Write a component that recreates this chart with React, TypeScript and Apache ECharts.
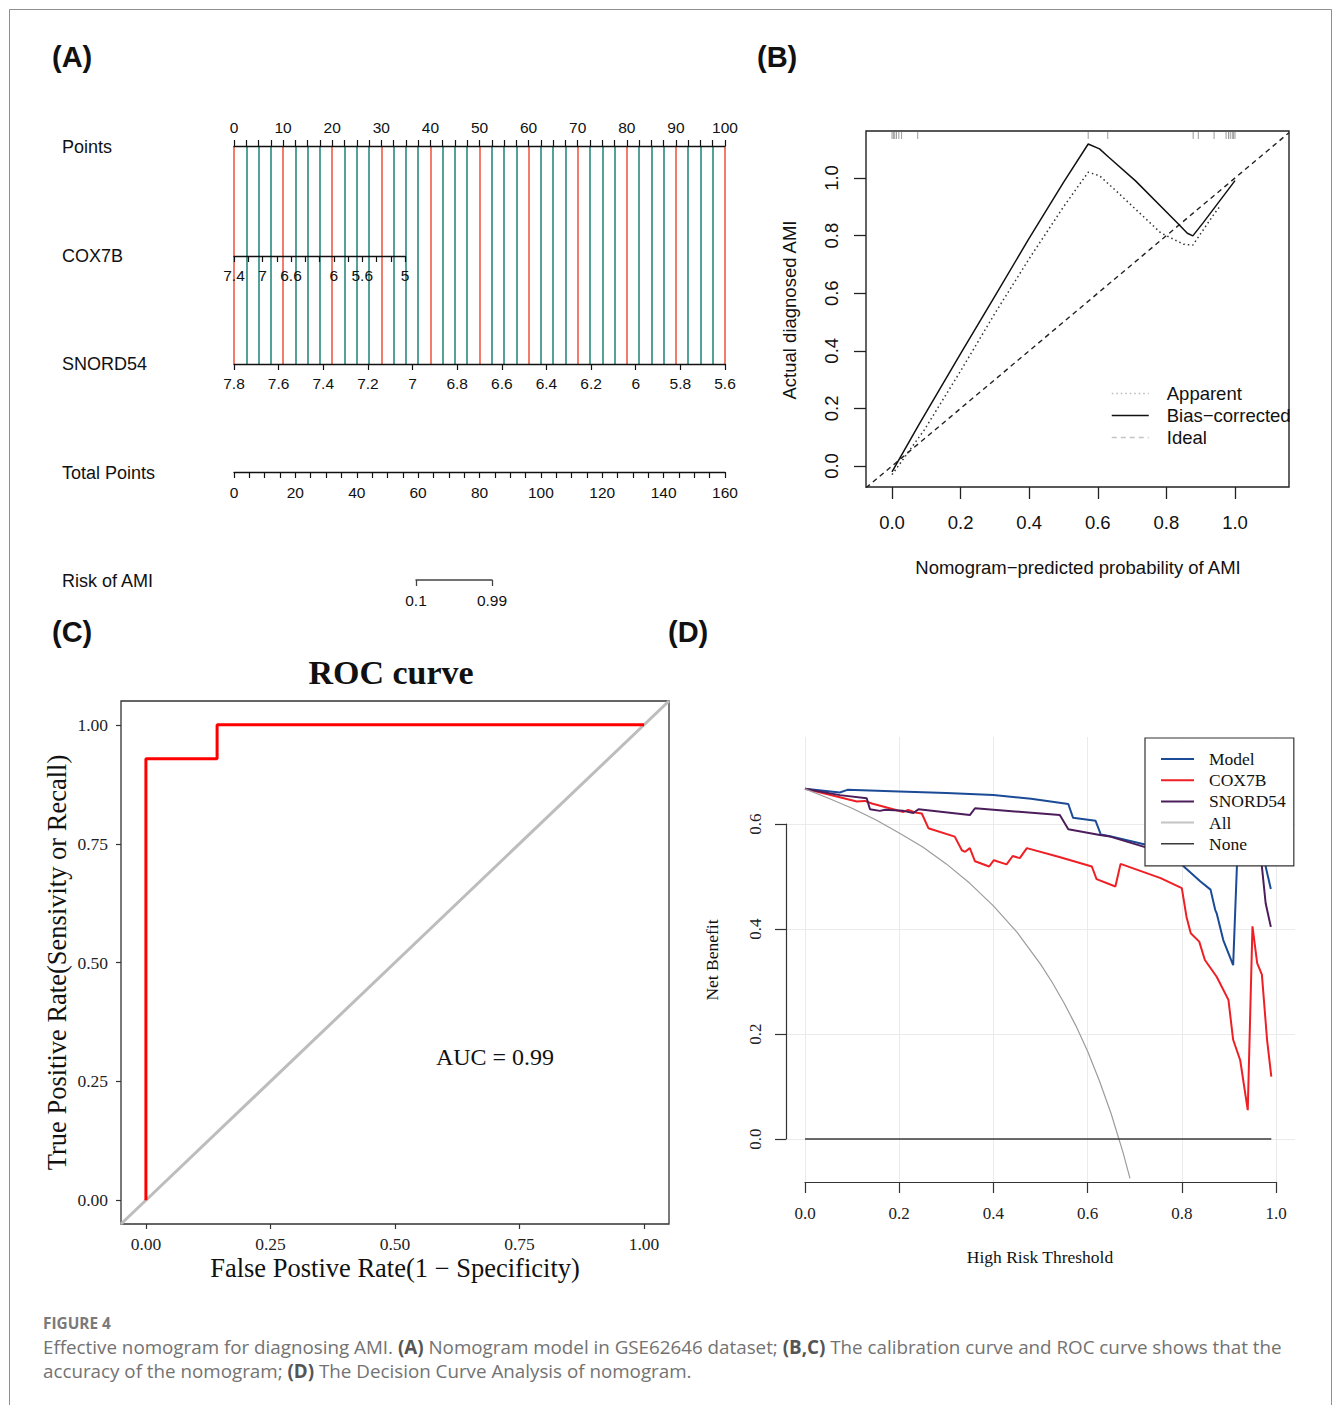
import React, { useEffect, useRef } from "react";
import * as echarts from "echarts";

// ---------- Panel A: nomogram scales ----------
const pointsRange = [0, 100];
const cox7bRange = [5, 7.4];
const cox7bLabels = [7.4, 7, 6.6, 6, 5.6, 5];
const snord54Range = [5.6, 7.8];
const totalPointsRange = [0, 160];
const riskTicks = [0.1, 0.99];
const nomoRows = ["Points", "COX7B", "SNORD54", "Total Points", "Risk of AMI"];

// ---------- Panel B: calibration ----------
const biasX = [0.0, 0.078, 0.2, 0.3, 0.397, 0.5, 0.572, 0.605, 0.632, 0.71, 0.835, 0.861, 0.877, 0.908, 1.0];
const biasY = [-0.02, 0.143, 0.39, 0.59, 0.785, 0.985, 1.118, 1.101, 1.072, 0.99, 0.84, 0.808, 0.799, 0.846, 0.991];
const apparentX = [0.0, 0.094, 0.2, 0.3, 0.4, 0.5, 0.572, 0.605, 0.658, 0.783, 0.85, 0.877, 0.939, 0.955];
const apparentY = [-0.03, 0.125, 0.33, 0.53, 0.72, 0.9, 1.02, 1.008, 0.95, 0.81, 0.77, 0.767, 0.875, 0.9];
const idealX = [-0.0758, 1.1574];
const idealY = [-0.0758, 1.1574];
const rugX = [0.0, 0.004, 0.008, 0.013, 0.02, 0.028, 0.075, 0.572, 0.629, 0.878, 0.893, 0.939, 0.974, 0.981, 0.986, 0.992, 0.996, 1.0];

// ---------- Panel C: ROC ----------
const rocFpr = [0, 0, 0.1429, 0.1429, 1];
const rocTpr = [0, 0.9286, 0.9286, 1, 1];
const diagX = [-0.05, 1.05];
const diagY = [-0.05, 1.05];
const aucText = "AUC = 0.99";

// ---------- Panel D: decision curve ----------
const modelX = [0, 0.074, 0.09, 0.2, 0.3, 0.4, 0.48, 0.559, 0.569, 0.617, 0.628, 0.65, 0.722, 0.76, 0.79, 0.803, 0.839, 0.861, 0.871, 0.874, 0.888, 0.909, 0.917, 0.93, 0.95, 0.97, 0.978, 0.989];
const modelY = [0.667, 0.66, 0.665, 0.662, 0.659, 0.655, 0.648, 0.638, 0.612, 0.606, 0.58, 0.576, 0.561, 0.55, 0.535, 0.52, 0.491, 0.475, 0.436, 0.43, 0.379, 0.331, 0.52, 0.62, 0.63, 0.6, 0.519, 0.476];
const coxX = [0, 0.046, 0.11, 0.127, 0.142, 0.209, 0.219, 0.234, 0.248, 0.262, 0.318, 0.333, 0.34, 0.35, 0.361, 0.391, 0.401, 0.428, 0.441, 0.456, 0.471, 0.54, 0.609, 0.619, 0.659, 0.67, 0.755, 0.8, 0.81, 0.819, 0.837, 0.849, 0.874, 0.899, 0.909, 0.924, 0.94, 0.95, 0.96, 0.97, 0.981, 0.99];
const coxY = [0.667, 0.657, 0.643, 0.644, 0.639, 0.623, 0.627, 0.622, 0.62, 0.592, 0.576, 0.55, 0.547, 0.554, 0.529, 0.519, 0.531, 0.523, 0.539, 0.535, 0.554, 0.537, 0.519, 0.495, 0.481, 0.524, 0.497, 0.478, 0.423, 0.392, 0.376, 0.341, 0.309, 0.265, 0.189, 0.15, 0.055, 0.405, 0.335, 0.313, 0.189, 0.119];
const snoX = [0, 0.074, 0.131, 0.138, 0.159, 0.17, 0.209, 0.23, 0.241, 0.35, 0.361, 0.541, 0.559, 0.626, 0.648, 0.722, 0.78, 0.85, 0.92, 0.96, 0.97, 0.978, 0.989];
const snoY = [0.667, 0.655, 0.649, 0.628, 0.625, 0.627, 0.625, 0.621, 0.628, 0.617, 0.63, 0.617, 0.59, 0.579, 0.576, 0.556, 0.545, 0.56, 0.58, 0.57, 0.519, 0.449, 0.404];
const allX = [0, 0.05, 0.1, 0.15, 0.2, 0.25, 0.3, 0.35, 0.4, 0.45, 0.5, 0.525, 0.55, 0.575, 0.6, 0.625, 0.65, 0.675, 0.69];
const allY = [0.667, 0.649, 0.63, 0.608, 0.583, 0.556, 0.524, 0.487, 0.444, 0.394, 0.333, 0.298, 0.259, 0.216, 0.167, 0.111, 0.048, -0.025, -0.075];
const noneX = [0, 0.99];
const noneY = [0, 0];

const FS = "'Liberation Sans', Arial, Helvetica, sans-serif";
const FSERIF = "'Liberation Serif', 'Times New Roman', serif";
const FCAP = "'Open Sans', 'Noto Sans', sans-serif";
const RED = "#f05b44";
const TEAL = "#2a8a80";

const pairs = (xs: number[], ys: number[]) => xs.map((x, i) => [x, ys[i]]);

const hiddenAxis = (gridIndex: number, min: number, max: number) => ({
  type: "value",
  gridIndex,
  min,
  max,
  show: false,
  axisLine: { onZero: false },
});

const nomoAxis = (gridIndex: number, extra: any) => ({
  type: "value",
  gridIndex,
  position: "bottom",
  axisLine: { show: true, onZero: false, lineStyle: { color: "#111", width: 1.3 } },
  axisTick: { show: true, length: 6, lineStyle: { color: "#111", width: 1.2 } },
  axisLabel: { show: true, fontSize: 15.5, fontFamily: FS, color: "#111", margin: 11, showMinLabel: true, showMaxLabel: true },
  splitLine: { show: false },
  ...extra,
});

export default function App() {
  const ref = useRef<HTMLDivElement>(null);

  useEffect(() => {
    if (!ref.current) return;
    const chart = echarts.init(ref.current, null, { renderer: "svg" });

    const grid = [
      { left: 234, top: 146, width: 491, height: 218 }, // 0 A points
      { left: 234, top: 255, width: 171, height: 1 }, // 1 COX7B
      { left: 234, top: 363, width: 491, height: 1 }, // 2 SNORD54
      { left: 234, top: 471, width: 491, height: 1 }, // 3 total
      { left: 416, top: 579, width: 76, height: 1 }, // 4 risk
      { left: 866, top: 131, width: 423, height: 356, show: true, borderColor: "#222", borderWidth: 1.4, backgroundColor: "transparent" }, // 5 B main
      { left: 892, top: 486, width: 343, height: 1 }, // 6 B x
      { left: 866, top: 178, width: 1, height: 288 }, // 7 B y
      { left: 121, top: 701, width: 548, height: 523, show: true, borderColor: "#333", borderWidth: 1.3, backgroundColor: "transparent" }, // 8 C main
      { left: 146, top: 1223, width: 498, height: 1 }, // 9 C x
      { left: 121, top: 725, width: 1, height: 475 }, // 10 C y
      { left: 786, top: 737, width: 509, height: 445 }, // 11 D main
      { left: 805, top: 737, width: 471, height: 445 }, // 12 D x + vgrid
      { left: 786, top: 824, width: 509, height: 315 }, // 13 D y + hgrid
    ].map((g: any) => ({ containLabel: false, outerBoundsMode: "none", ...g }));

    const xAxis: any[] = [
      nomoAxis(0, {
        position: "top",
        min: pointsRange[0],
        max: pointsRange[1],
        interval: 10,
        axisLabel: { show: true, fontSize: 15.5, fontFamily: FS, color: "#111", margin: 11, showMinLabel: true, showMaxLabel: true },
        minorTick: { show: true, splitNumber: 4, length: 6, lineStyle: { color: "#111", width: 1.2 } },
        splitLine: { show: true, lineStyle: { color: RED, width: 1.6 } },
        minorSplitLine: { show: true, lineStyle: { color: TEAL, width: 1.6 } },
      }),
      nomoAxis(1, {
        inverse: true,
        min: cox7bRange[0],
        max: cox7bRange[1],
        interval: 0.2,
        axisLabel: {
          show: true, fontSize: 15.5, fontFamily: FS, color: "#111", margin: 11, showMinLabel: true, showMaxLabel: true,
          formatter: (v: number) => {
            const r = Math.round(v * 10) / 10;
            return cox7bLabels.some((l) => Math.abs(l - r) < 1e-6) ? String(r) : "";
          },
        },
      }),
      nomoAxis(2, {
        inverse: true,
        min: snord54Range[0],
        max: snord54Range[1],
        interval: 0.2,
        axisLabel: {
          show: true, fontSize: 15.5, fontFamily: FS, color: "#111", margin: 11, showMinLabel: true, showMaxLabel: true,
          formatter: (v: number) => String(Math.round(v * 10) / 10),
        },
      }),
      nomoAxis(3, {
        min: totalPointsRange[0],
        max: totalPointsRange[1],
        interval: 20,
        minorTick: { show: true, splitNumber: 4, length: 6, lineStyle: { color: "#111", width: 1.2 } },
        axisLabel: { show: true, fontSize: 15.5, fontFamily: FS, color: "#111", margin: 12, showMinLabel: true, showMaxLabel: true },
      }),
      nomoAxis(4, {
        min: riskTicks[0],
        max: riskTicks[1],
        axisLine: { show: true, onZero: false, lineStyle: { color: "#444", width: 1.5 } },
        axisTick: { show: true, length: 6, customValues: riskTicks, lineStyle: { color: "#444", width: 1.3 } },
        axisLabel: {
          show: true, fontSize: 15.5, fontFamily: FS, color: "#111", margin: 12,
          customValues: riskTicks,
          formatter: (v: number) => String(v),
        },
      }),
      hiddenAxis(5, -0.0758, 1.1574),
      {
        type: "value", gridIndex: 6, position: "bottom", min: 0, max: 1, interval: 0.2,
        axisLine: { show: false, onZero: false },
        axisTick: { show: true, length: 12, lineStyle: { color: "#222", width: 1.3 } },
        axisLabel: { show: true, fontSize: 18.5, fontFamily: FS, color: "#111", margin: 26, showMinLabel: true, showMaxLabel: true, formatter: (v: number) => v.toFixed(1) },
        splitLine: { show: false },
      },
      hiddenAxis(7, 0, 1),
      hiddenAxis(8, diagX[0], diagX[1]),
      {
        type: "value", gridIndex: 9, position: "bottom", min: 0, max: 1, interval: 0.25,
        axisLine: { show: false, onZero: false },
        axisTick: { show: true, length: 5, lineStyle: { color: "#333", width: 1.2 } },
        axisLabel: { show: true, fontSize: 17.5, fontFamily: FSERIF, color: "#222", margin: 11, showMinLabel: true, showMaxLabel: true, formatter: (v: number) => v.toFixed(2) },
        splitLine: { show: false },
        name: "False Postive Rate(1 \u2212 Specificity)",
        nameLocation: "middle",
        nameGap: 30,
        nameTextStyle: { fontSize: 26.5, fontFamily: FSERIF, color: "#111" },
      },
      hiddenAxis(10, 0, 1),
      hiddenAxis(11, -0.0403, 1.0403),
      {
        type: "value", gridIndex: 12, position: "bottom", min: 0, max: 1, interval: 0.2,
        axisLine: { show: true, onZero: false, lineStyle: { color: "#333", width: 1.2 } },
        axisTick: { show: true, length: 11, lineStyle: { color: "#333", width: 1.2 } },
        axisLabel: { show: true, fontSize: 17, fontFamily: FSERIF, color: "#222", margin: 23, showMinLabel: true, showMaxLabel: true, formatter: (v: number) => v.toFixed(1) },
        splitLine: { show: true, lineStyle: { color: "#ebebeb", width: 1 } },
      },
      hiddenAxis(13, 0, 1),
    ];

    const yAxis: any[] = [
      hiddenAxis(0, 0, 1),
      hiddenAxis(1, 0, 1),
      hiddenAxis(2, 0, 1),
      hiddenAxis(3, 0, 1),
      hiddenAxis(4, 0, 1),
      hiddenAxis(5, -0.0729, 1.1632),
      hiddenAxis(6, 0, 1),
      {
        type: "value", gridIndex: 7, position: "left", min: 0, max: 1, interval: 0.2,
        axisLine: { show: false, onZero: false },
        axisTick: { show: true, length: 12, lineStyle: { color: "#222", width: 1.3 } },
        axisLabel: { show: true, rotate: 90, fontSize: 18.5, fontFamily: FS, color: "#111", margin: 25, showMinLabel: true, showMaxLabel: true, formatter: (v: number) => v.toFixed(1) },
        splitLine: { show: false },
      },
      hiddenAxis(8, diagY[0], diagY[1]),
      hiddenAxis(9, 0, 1),
      {
        type: "value", gridIndex: 10, position: "left", min: 0, max: 1, interval: 0.25,
        axisLine: { show: false, onZero: false },
        axisTick: { show: true, length: 5, lineStyle: { color: "#333", width: 1.2 } },
        axisLabel: { show: true, fontSize: 17.5, fontFamily: FSERIF, color: "#222", margin: 13, showMinLabel: true, showMaxLabel: true, formatter: (v: number) => v.toFixed(2) },
        splitLine: { show: false },
        name: "True Positive Rate(Sensivity or Recall)",
        nameLocation: "middle",
        nameGap: 51,
        nameTextStyle: { fontSize: 26.5, fontFamily: FSERIF, color: "#111" },
      },
      hiddenAxis(11, -0.0819, 0.7657),
      hiddenAxis(12, 0, 1),
      {
        type: "value", gridIndex: 13, position: "left", min: 0, max: 0.6, interval: 0.2,
        axisLine: { show: true, onZero: false, lineStyle: { color: "#333", width: 1.2 } },
        axisTick: { show: true, length: 11, lineStyle: { color: "#333", width: 1.2 } },
        axisLabel: { show: true, rotate: 90, fontSize: 17, fontFamily: FSERIF, color: "#222", margin: 22, showMinLabel: true, showMaxLabel: true, formatter: (v: number) => v.toFixed(1) },
        splitLine: { show: true, lineStyle: { color: "#ebebeb", width: 1 } },
      },
    ];

    const line = (name: string, xi: number, data: number[][], lineStyle: any, z = 3) => ({
      type: "line",
      name,
      xAxisIndex: xi,
      yAxisIndex: xi,
      data,
      symbol: "none",
      showSymbol: false,
      lineStyle,
      itemStyle: { color: lineStyle.color },
      silent: true,
      z,
      animation: false,
    });

    const yTopB = 1.1632;

    const series: any[] = [
      // Panel B
      line("Ideal", 5, pairs(idealX, idealY), { color: "#222", width: 1.4, type: [5, 4] }),
      line("Apparent", 5, pairs(apparentX, apparentY), { color: "#333", width: 1.5, type: [1.5, 3] }),
      line("Bias\u2212corrected", 5, pairs(biasX, biasY), { color: "#111", width: 1.5, type: "solid" }),
      {
        type: "custom",
        name: "rug",
        xAxisIndex: 5,
        yAxisIndex: 5,
        data: rugX.map((x) => [x, yTopB]),
        encode: { x: 0, y: 1 },
        silent: true,
        renderItem: (params: any, api: any) => {
          const p = api.coord([api.value(0), api.value(1)]);
          return {
            type: "line",
            shape: { x1: p[0], y1: p[1] + 1, x2: p[0], y2: p[1] + 8 },
            style: { stroke: "#9a9a9a", lineWidth: 1 },
          };
        },
      },
      // Panel C
      line("diag", 8, pairs(diagX, diagY), { color: "#bdbdbd", width: 3 }),
      line("ROC", 8, pairs(rocFpr, rocTpr), { color: "#ff0000", width: 3 }, 4),
      // Panel D
      line("Model", 11, pairs(modelX, modelY), { color: "#1b4a96", width: 2 }),
      line("COX7B", 11, pairs(coxX, coxY), { color: "#ee1f25", width: 2 }),
      line("SNORD54", 11, pairs(snoX, snoY), { color: "#4c1d5b", width: 2 }),
      line("All", 11, pairs(allX, allY), { color: "#9c9c9c", width: 1.2 }),
      line("None", 11, pairs(noneX, noneY), { color: "#3a3a3a", width: 1.3 }),
    ];

    const hideSym = { opacity: 0, color: "transparent", borderWidth: 0 };

    const legend = [
      {
        orient: "vertical",
        left: 1111,
        top: 384,
        padding: 0,
        itemWidth: 37,
        itemHeight: 12,
        itemGap: 3,
        selectedMode: false,
        itemStyle: hideSym,
        data: [
          { name: "Apparent", itemStyle: hideSym, lineStyle: { color: "#b8b8b8", width: 1.4, type: [1.5, 3] } },
          { name: "Bias\u2212corrected", itemStyle: hideSym, lineStyle: { color: "#111", width: 1.5, type: "solid" } },
          { name: "Ideal", itemStyle: hideSym, lineStyle: { color: "#c4c4c4", width: 1.4, type: [5, 4] } },
        ],
        textStyle: { fontSize: 18.5, fontFamily: FS, color: "#111", lineHeight: 19, padding: [0, 0, 0, 13] },
      },
      {
        orient: "vertical",
        left: 1145,
        top: 738,
        padding: [12, 8, 13, 15],
        itemWidth: 33,
        itemHeight: 14,
        itemGap: 3.2,
        selectedMode: false,
        backgroundColor: "#ffffff",
        borderColor: "#333",
        borderWidth: 1.2,
        itemStyle: hideSym,
        data: [
          { name: "Model", itemStyle: hideSym, lineStyle: { color: "#1b4a96", width: 2 } },
          { name: "COX7B", itemStyle: hideSym, lineStyle: { color: "#ee1f25", width: 2 } },
          { name: "SNORD54", itemStyle: hideSym, lineStyle: { color: "#4c1d5b", width: 2 } },
          { name: "All", itemStyle: hideSym, lineStyle: { color: "#c4c4c4", width: 2 } },
          { name: "None", itemStyle: hideSym, lineStyle: { color: "#3a3a3a", width: 1.5 } },
        ],
        textStyle: { fontSize: 17.5, fontFamily: FSERIF, color: "#111", padding: [0, 0, 0, 10] },
        z: 10,
      },
    ];

    const txt = (text: string, x: number, y: number, style: any, extra: any = {}) => ({
      type: "text",
      x,
      y,
      silent: true,
      style: { text, fill: "#111", verticalAlign: "middle", align: "left", ...style },
      ...extra,
    });

    const capN = { fontSize: 18.8, fontFamily: FCAP, fill: "#727272" };
    const capB = { fontSize: 18.8, fontFamily: FCAP, fill: "#555", fontWeight: "bold" };

    const rowY = [147, 256, 364, 473, 581];

    const graphic: any[] = [
      { type: "rect", silent: true, z: -10, shape: { x: 9.5, y: 9.5, width: 1322, height: 1420 }, style: { fill: "none", stroke: "#8f8f8f", lineWidth: 1 } },
      txt("(A)", 52, 57, { fontSize: 29, fontFamily: FS, fontWeight: "bold" }),
      txt("(B)", 757, 57, { fontSize: 29, fontFamily: FS, fontWeight: "bold" }),
      txt("(C)", 52, 632, { fontSize: 29, fontFamily: FS, fontWeight: "bold" }),
      txt("(D)", 668, 632, { fontSize: 29, fontFamily: FS, fontWeight: "bold" }),
      ...nomoRows.map((r, i) => txt(r, 62, rowY[i], { fontSize: 18, fontFamily: FS })),
      txt("Nomogram\u2212predicted probability of AMI", 1078, 567, { fontSize: 18.5, fontFamily: FS, align: "center" }),
      txt("Actual diagnosed AMI", 789, 310, { fontSize: 18.5, fontFamily: FS, align: "center" }, { rotation: Math.PI / 2 }),
      txt("ROC curve", 391, 672, { fontSize: 34, fontFamily: FSERIF, fontWeight: "bold", align: "center" }),
      txt(aucText, 495, 1057, { fontSize: 24, fontFamily: FSERIF, align: "center" }),
      txt("High Risk Threshold", 1040, 1257, { fontSize: 17.5, fontFamily: FSERIF, align: "center" }),
      txt("Net Benefit", 712, 960, { fontSize: 17.5, fontFamily: FSERIF, align: "center" }, { rotation: Math.PI / 2 }),
      txt("FIGURE 4", 43, 1323, { fontSize: 15.4, fontFamily: FCAP, fontWeight: "bold", fill: "#7a7a7a" }),
      {
        type: "text",
        x: 43,
        y: 1347,
        silent: true,
        style: {
          text:
            "{n|Effective nomogram for diagnosing AMI. }{b|(A)}{n| Nomogram model in GSE62646 dataset; }{b|(B,C)}{n| The calibration curve and ROC curve shows that the}",
          verticalAlign: "middle",
          rich: { n: capN, b: capB },
        },
      },
      {
        type: "text",
        x: 43,
        y: 1371,
        silent: true,
        style: {
          text: "{n|accuracy of the nomogram; }{b|(D)}{n| The Decision Curve Analysis of nomogram.}",
          verticalAlign: "middle",
          rich: { n: capN, b: capB },
        },
      },
    ];

    chart.setOption({
      animation: false,
      backgroundColor: "#ffffff",
      textStyle: { fontFamily: FS },
      grid,
      xAxis,
      yAxis,
      series,
      legend,
      graphic,
    });

    return () => chart.dispose();
  }, []);

  return (
    <div
      ref={ref}
      style={{ position: "absolute", left: 0, top: 0, width: 1333, height: 1405 }}
    />
  );
}
